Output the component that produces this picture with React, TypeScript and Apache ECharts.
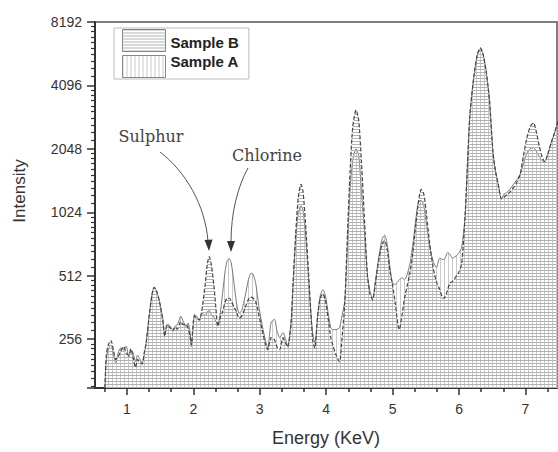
import React, { useEffect, useRef } from "react";
import * as echarts from "echarts";

// Energy (KeV) sample positions
const energies = [
  0.67, 0.69, 0.72, 0.76, 0.8, 0.83, 0.87, 0.91, 0.95, 0.99,
  1.03, 1.06, 1.09, 1.13, 1.16, 1.19, 1.23, 1.26, 1.29, 1.34,
  1.38, 1.41, 1.45, 1.49, 1.54, 1.57, 1.6, 1.62, 1.66, 1.69,
  1.73, 1.76, 1.79, 1.81, 1.85, 1.89, 1.92, 1.95, 1.97, 2.0,
  2.02, 2.06, 2.09, 2.12, 2.14, 2.18, 2.21, 2.24, 2.27, 2.31,
  2.34, 2.37, 2.4, 2.44, 2.48, 2.51, 2.54, 2.57, 2.61, 2.65,
  2.69, 2.73, 2.78, 2.83, 2.87, 2.9, 2.94, 2.99, 3.05, 3.09,
  3.12, 3.17, 3.22, 3.26, 3.3, 3.35, 3.39, 3.42, 3.47, 3.5,
  3.54, 3.58, 3.62, 3.65, 3.69, 3.73, 3.77, 3.8, 3.83, 3.87,
  3.91, 3.95, 3.99, 4.03, 4.07, 4.1, 4.15, 4.2, 4.23, 4.28,
  4.32, 4.36, 4.4, 4.45, 4.49, 4.53, 4.58, 4.62, 4.66, 4.7,
  4.74, 4.79, 4.84, 4.88, 4.92, 4.96, 5.0, 5.04, 5.08, 5.1,
  5.14, 5.18, 5.22, 5.26, 5.3, 5.35, 5.39, 5.43, 5.47, 5.51,
  5.56, 5.61, 5.66, 5.71, 5.76, 5.79, 5.83, 5.86, 5.9, 5.94,
  5.99, 6.04, 6.09, 6.13, 6.16, 6.2, 6.24, 6.28, 6.32, 6.36,
  6.41, 6.46, 6.51, 6.55, 6.59, 6.64, 6.68, 6.72, 6.77, 6.82,
  6.87, 6.92, 6.97, 7.02, 7.07, 7.12, 7.16, 7.21, 7.25, 7.29,
  7.34, 7.39, 7.44, 7.49,
];

// Intensity, Sample A
const sampleA = [
  150, 205, 230, 240, 215, 198, 220, 233, 228, 237,
  209, 225, 222, 200, 215, 207, 198, 215, 246, 339,
  420, 451, 430, 387, 322, 270, 292, 302, 292, 284,
  296, 300, 318, 329, 310, 294, 305, 280, 236, 300,
  336, 325, 318, 330, 340, 330, 345, 350, 335, 325,
  310, 300, 330, 420, 540, 605, 617, 590, 480, 380,
  340, 350, 410, 490, 526, 520, 470, 360, 284, 250,
  232, 306, 318, 280, 260, 275, 255, 237, 306, 450,
  750, 1000, 1100, 1050, 800, 520, 340, 270, 245, 320,
  410, 439, 410, 340, 290, 284, 284, 290, 320, 390,
  700, 1300, 1800, 2050, 1900, 1300, 800, 520, 430, 400,
  480, 620, 760, 797, 720, 560, 471, 465, 480, 490,
  500, 490, 520, 580, 700, 950, 1150, 1165, 1100, 900,
  700, 600, 560, 620, 610, 620, 660, 647, 620, 630,
  650, 700, 970, 1800, 2850, 3900, 4930, 5800, 6100, 5800,
  4740, 3440, 1990, 1600, 1390, 1185, 1250, 1270, 1320, 1390,
  1460, 1550, 1750, 1950, 2050, 2080, 2000, 1880, 1800, 1780,
  1950, 2200, 2450, 2760,
];

// Intensity, Sample B
const sampleB = [
  150, 215, 240, 252, 225, 205, 212, 225, 236, 220,
  215, 230, 212, 188, 205, 200, 195, 220, 246, 339,
  420, 451, 430, 387, 315, 264, 298, 296, 288, 280,
  292, 285, 300, 310, 300, 300, 290, 265, 240, 310,
  330, 320, 315, 340, 370, 470, 580, 630, 580, 460,
  360, 294, 320, 345, 385, 400, 400, 390, 365, 345,
  322, 330, 360, 395, 405, 400, 385, 330, 270, 240,
  228, 260, 255, 235, 228, 260, 245, 235, 300, 460,
  800, 1200, 1389, 1300, 900, 560, 340, 250, 232, 330,
  400, 420, 390, 320, 260, 240, 215, 200, 240, 380,
  800, 1600, 2600, 3130, 2800, 1800, 900, 520, 420, 393,
  470, 600, 720, 750, 680, 540, 460, 380, 300, 284,
  330, 400, 460, 526, 640, 900, 1150, 1315, 1250, 1000,
  720, 560, 480, 440, 400, 406, 440, 471, 480, 500,
  526, 585, 970, 1800, 2850, 3900, 4930, 5800, 6170, 5800,
  4740, 3440, 1990, 1600, 1390, 1185, 1210, 1240, 1280, 1340,
  1420, 1550, 1900, 2300, 2600, 2720, 2500, 2100, 1880, 1780,
  1950, 2200, 2450, 2760,
];

const xTickLabels = [1, 2, 3, 4, 5, 6, 7];
const xMinorTicks = [0.6667, 1.3333, 1.6667, 2.3333, 2.6667, 3.3333, 3.6667, 4.3333, 4.6667, 5.3333, 5.6667, 6.3333, 6.6667, 7.3333];

const seriesNames = ["Sample B", "Sample A"];
const annotations = ["Sulphur", "Chlorine"];

function makeHatch(w: number, h: number, draw: (ctx: CanvasRenderingContext2D) => void) {
  const c = document.createElement("canvas");
  c.width = w;
  c.height = h;
  const ctx = c.getContext("2d")!;
  draw(ctx);
  return c;
}

export default function App() {
  const ref = useRef<HTMLDivElement>(null);

  useEffect(() => {
    if (!ref.current) return;
    const chart = echarts.init(ref.current, null, { renderer: "svg" });

    const hCanvas = makeHatch(4, 3, (ctx) => {
      ctx.fillStyle = "#b2b2b2";
      ctx.fillRect(0, 0, 4, 1);
    });
    const vCanvas = makeHatch(4, 3, (ctx) => {
      ctx.fillStyle = "#cacaca";
      ctx.fillRect(0, 0, 1, 3);
    });
    const hPattern: any = { image: hCanvas, repeat: "repeat" };
    const vPattern: any = { image: vCanvas, repeat: "repeat" };

    const dataA = energies.map((e, i) => [e, sampleA[i]]);
    const dataB = energies.map((e, i) => [e, sampleB[i]]);

    const font = "Liberation Sans, Arial, sans-serif";
    const xMin = 0.52;
    const xMax = 7.475;
    const yMin = 150;
    const yMax = 8192;

    const legendText = {
      fontFamily: font,
      fontWeight: "bold",
      fontSize: 15,
      color: "#222",
    };

    const option: any = {
      animation: false,
      grid: {
        left: 95,
        right: 1,
        top: 22,
        bottom: 60,
        show: true,
        borderColor: "#555",
        borderWidth: 1.5,
        backgroundColor: "transparent",
      },
      legend: {
        orient: "vertical",
        left: 114,
        top: 28,
        icon: "rect",
        itemWidth: 43,
        itemHeight: 22,
        itemGap: 2,
        itemTextGap: 7,
        padding: [1, 10, 1, 8],
        borderColor: "#bbb",
        borderWidth: 1,
        selectedMode: false,
        formatter: (name: string) => (name === seriesNames[0] ? `{b|${name}}` : `{a|${name}}`),
        textStyle: {
          ...legendText,
          rich: {
            b: { ...legendText, padding: [4, 0, 0, 0] },
            a: { ...legendText, padding: [0, 0, 10, 0] },
          },
        },
        data: [
          { name: seriesNames[0], itemStyle: { color: hPattern, borderColor: "#888", borderWidth: 1 } },
          { name: seriesNames[1], itemStyle: { color: vPattern, borderColor: "#888", borderWidth: 1 } },
        ],
      },
      xAxis: [
        {
          type: "value",
          min: xMin,
          max: xMax,
          name: "Energy (KeV)",
          nameLocation: "middle",
          nameGap: 41,
          nameTextStyle: { fontFamily: font, fontSize: 18, color: "#333" },
          axisLine: { show: true, lineStyle: { color: "#333", width: 2 } },
          axisTick: { show: true, customValues: xTickLabels, length: 7, lineStyle: { color: "#333", width: 1.5 } },
          axisLabel: { customValues: xTickLabels, margin: 14, fontFamily: font, fontSize: 14, color: "#333" },
          splitLine: { show: false },
        },
        {
          type: "value",
          position: "bottom",
          min: xMin,
          max: xMax,
          axisLine: { show: false },
          axisTick: { show: true, customValues: xMinorTicks, length: 4, lineStyle: { color: "#333", width: 1.5 } },
          axisLabel: { show: false },
          splitLine: { show: false },
        },
      ],
      yAxis: {
        type: "log",
        logBase: 2,
        min: yMin,
        max: yMax,
        axisLine: { show: true, lineStyle: { color: "#333", width: 2 } },
        axisTick: { show: true, length: 8, lineStyle: { color: "#333", width: 1.5 } },
        minorTick: { show: true, splitNumber: 10, length: 4, lineStyle: { color: "#333", width: 1.2 } },
        axisLabel: {
          margin: 13,
          fontFamily: font,
          fontSize: 14,
          color: "#333",
          formatter: (v: number) => {
            const l = Math.log2(v);
            return Math.abs(l - Math.round(l)) < 1e-6 ? String(Math.round(v)) : "";
          },
        },
        splitLine: { show: false },
        minorSplitLine: { show: false },
      },
      series: [
        {
          name: seriesNames[1],
          type: "line",
          xAxisIndex: 0,
          data: dataA,
          showSymbol: false,
          smooth: 0.25,
          itemStyle: { color: vPattern },
          lineStyle: { color: "#777", width: 1 },
          areaStyle: { color: vPattern, origin: "start", opacity: 1 },
          z: 2,
        },
        {
          name: seriesNames[0],
          type: "line",
          xAxisIndex: 0,
          data: dataB,
          showSymbol: false,
          smooth: 0.25,
          itemStyle: { color: hPattern },
          lineStyle: { color: "#444", width: 1.2, type: [4, 2] },
          areaStyle: { color: hPattern, origin: "start", opacity: 1 },
          z: 3,
        },
      ],
      graphic: [
        {
          type: "text",
          x: 19,
          y: 191,
          rotation: Math.PI / 2,
          style: {
            text: "Intensity",
            fontFamily: font,
            fontSize: 17,
            fill: "#333",
            textAlign: "center",
            textVerticalAlign: "middle",
          },
        },
        {
          type: "text",
          x: 151,
          y: 136,
          style: {
            text: annotations[0],
            fontFamily: "DejaVu Serif, serif",
            fontSize: 16,
            fill: "#444",
            textAlign: "center",
            textVerticalAlign: "middle",
          },
        },
        {
          type: "text",
          x: 267,
          y: 155,
          style: {
            text: annotations[1],
            fontFamily: "DejaVu Serif, serif",
            fontSize: 16,
            fill: "#444",
            textAlign: "center",
            textVerticalAlign: "middle",
          },
        },
        {
          type: "bezierCurve",
          shape: { x1: 160, y1: 152, cpx1: 186, cpy1: 172, cpx2: 205, cpy2: 205, x2: 208, y2: 241 },
          style: { stroke: "#555", lineWidth: 1, fill: null },
        },
        {
          type: "polygon",
          shape: { points: [[209, 251], [204.5, 240], [212.5, 239.5]] },
          style: { fill: "#333" },
        },
        {
          type: "bezierCurve",
          shape: { x1: 248, y1: 168, cpx1: 238, cpy1: 186, cpx2: 231, cpy2: 212, x2: 231, y2: 242 },
          style: { stroke: "#555", lineWidth: 1, fill: null },
        },
        {
          type: "polygon",
          shape: { points: [[231, 252], [227, 241], [235, 241]] },
          style: { fill: "#333" },
        },
      ],
    };

    chart.setOption(option);
    return () => {
      chart.dispose();
    };
  }, []);

  return (
    <div
      ref={ref}
      style={{ position: "fixed", left: 0, top: 0, width: 558, height: 452, background: "#fff" }}
    />
  );
}
